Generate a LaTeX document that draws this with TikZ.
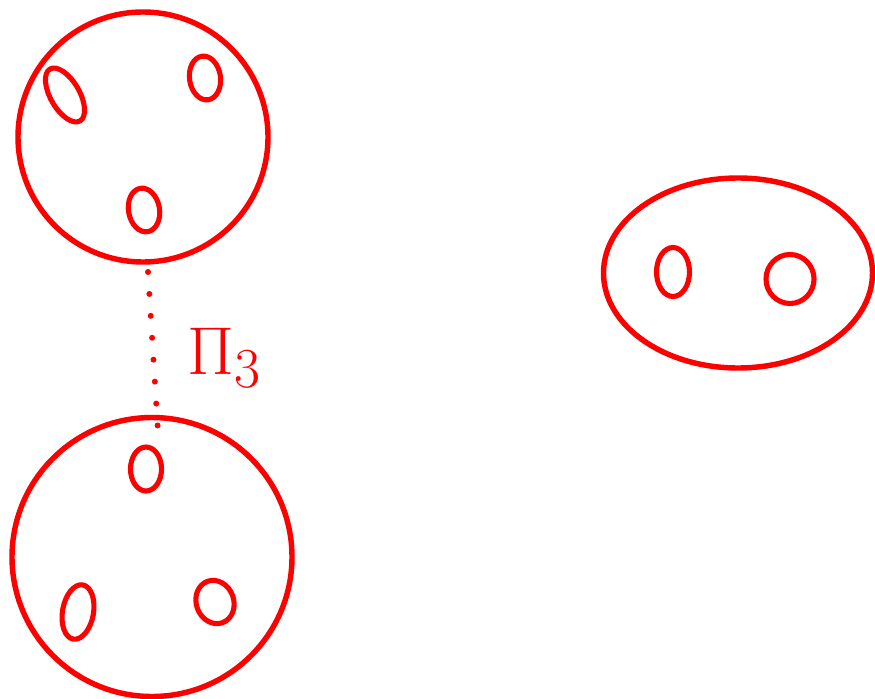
\documentclass[tikz,border=0pt]{standalone}
\usepackage{amsmath,amssymb}
\usepackage{xcolor}
\usepackage{tikz}
\usetikzlibrary{shapes.geometric, positioning, calc}

\tikzset{
    blob/.style={draw=red, ellipse, line width=3.1pt, inner sep=0pt},
    vertex/.style={draw=red, ellipse, line width=2.9pt, inner sep=0pt,
        minimum width=0.62cm, minimum height=0.88cm},
}

\begin{document}
\begin{tikzpicture}[line cap=round, line join=round]

    % Page frame
    \useasboundingbox (0,0) rectangle (17.5,-13.98);

    % Top blob with three vertices
    \node[blob, minimum width=5cm, minimum height=5cm] (topblob) at (2.86,-2.74) {};
    \node[vertex, rotate=30, minimum width=0.58cm, minimum height=1.2cm] (a1) at (1.3,-1.9) {};
    \node[vertex, rotate=8] (a2) at (4.1,-1.56) {};
    \node[vertex, rotate=10] (a3) at (2.88,-4.2) {};

    % Bottom blob with three vertices
    \node[vertex] (b1) at (2.92,-9.38) {};
    \node[blob, minimum width=5.6cm, minimum height=5.58cm] (botblob) at (3.04,-11.14) {};
    \node[vertex, rotate=-10, minimum height=1.1cm] (b2) at (1.56,-12.24) {};
    \node[vertex, rotate=20, minimum width=0.75cm] (b3) at (4.3,-12.04) {};

    % Right blob with two vertices
    \node[blob, minimum width=5.38cm, minimum height=3.8cm] (rightblob) at (14.76,-5.46) {};
    \node[vertex, minimum width=0.66cm, minimum height=0.98cm] (c1) at (13.46,-5.44) {};
    \node[vertex, minimum width=0.96cm, minimum height=0.98cm] (c2) at (15.8,-5.58) {};

    % Dotted link between the two left blobs
    \coordinate (linktop) at (2.96,-5.44);
    \coordinate (linkbot) at (3.16,-8.64);
    \draw[red, line width=3.4pt, dash pattern=on 0pt off 12.5pt] (linktop) -- (linkbot);

    % Label of the link
    \node[text=red, font=\Huge, scale=1.55, transform shape] (pilabel) at (4.5,-7.15) {$\Pi_{3}$};

\end{tikzpicture}
\end{document}
